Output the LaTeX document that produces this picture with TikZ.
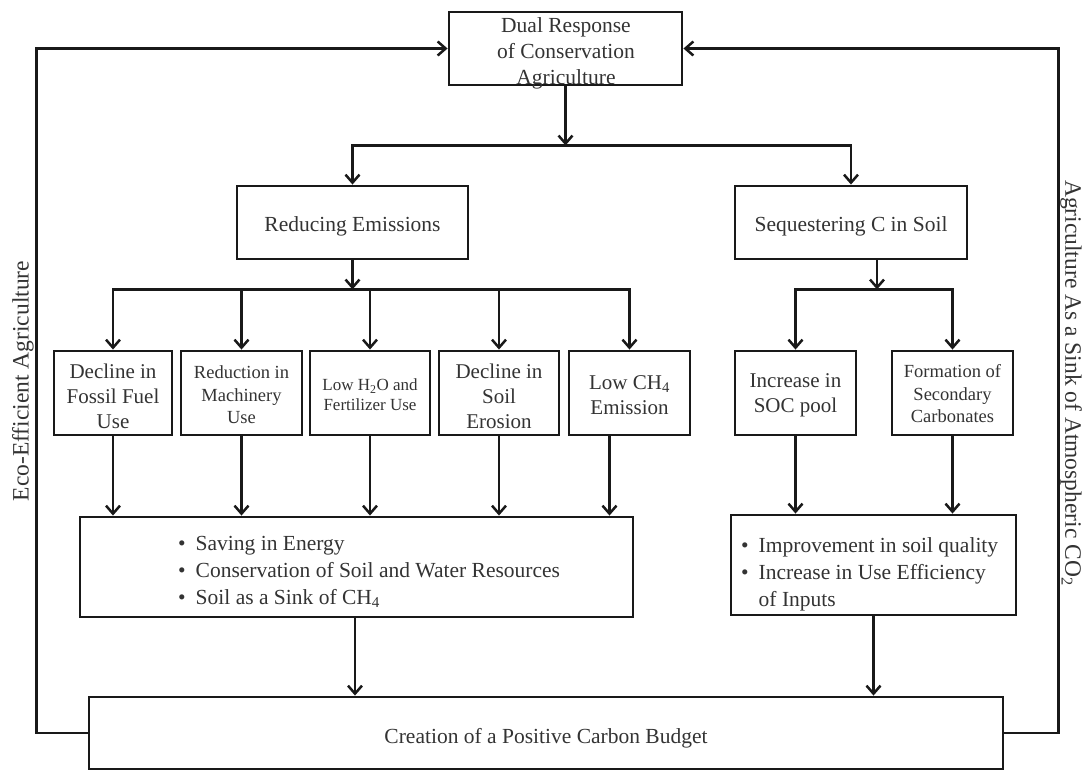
\documentclass[tikz,border=0pt]{standalone}
\usepackage{fontspec}
\setmainfont{Liberation Serif}
\usetikzlibrary{arrows.meta,calc}
\begin{document}
\begin{tikzpicture}[x=1pt,y=-1pt,
  box/.style={draw=black!90,line width=2.9pt,inner sep=0pt},
  txt/.style={text=black!80,align=center,inner sep=0pt,font=\fontsize{21.5}{26}\selectfont},
  big/.style={text=black!80,align=center,inner sep=0pt,font=\fontsize{21}{25}\selectfont},
  mid/.style={text=black!80,align=center,inner sep=0pt,font=\fontsize{18.5}{22.5}\selectfont},
  sml/.style={text=black!80,align=center,inner sep=0pt,font=\fontsize{17}{20}\selectfont},
  bul/.style={text=black!80,inner sep=0pt,anchor=west,font=\fontsize{21.5}{27}\selectfont},
  side/.style={text=black!80,inner sep=0pt,font=\fontsize{23.5}{28}\selectfont},
  sbox/.style={box,minimum width=120pt,minimum height=84pt},
  conn/.style={draw=black!90,line width=2.5pt},
  arr/.style={conn,-{Straight Barb[length=8pt,width=14pt]}},
]
\useasboundingbox (0,0) rectangle (1089,772);

% top
\node[box,minimum width=233pt,minimum height=73pt] (top) at (565.5,48.5) {};
\node[txt] (topT) at (566,53.5) {Dual Response\\of Conservation\\Agriculture};

% second level
\node[box,minimum width=231pt,minimum height=73pt] (red) at (352.5,222.5) {};
\node[txt,yshift=-4pt] (redT) at (red) {Reducing Emissions};
\node[box,minimum width=232pt,minimum height=73pt] (seq) at (851,222.5) {};
\node[txt,yshift=-4pt] (seqT) at (seq) {Sequestering C in Soil};

% small boxes
\node[sbox,minimum width=118pt] (b1) at (113,393) {};
\node[big,yshift=-3pt] (b1T) at (b1) {Decline in\\Fossil Fuel\\Use};
\node[sbox,minimum width=121pt] (b2) at (241.5,393) {};
\node[mid,yshift=-2pt] (b2T) at (b2) {Reduction in\\Machinery\\Use};
\node[sbox] (b3) at (370,393) {};
\node[sml,yshift=-2pt] (b3T) at (b3) {Low H\textsubscript{2}O and\\Fertilizer Use};
\node[sbox] (b4) at (499,393) {};
\node[big,yshift=-3pt] (b4T) at (b4) {Decline in\\Soil\\Erosion};
\node[sbox,minimum width=121pt] (b5) at (629.5,393) {};
\node[big,yshift=-2pt] (b5T) at (b5) {Low CH\textsubscript{4}\\Emission};
\node[sbox,minimum width=121pt] (soc) at (795.5,393) {};
\node[big,yshift=-2pt] (socT) at (soc) {Increase in\\SOC pool};
\node[sbox,minimum width=121pt] (form) at (952.5,393) {};
\node[mid,yshift=-1pt] (formT) at (form) {Formation of\\Secondary\\Carbonates};

% result boxes
\node[box,minimum width=553pt,minimum height=100pt] (lbox) at (356.5,567) {};
\node[bul] (ltxt) at (178,572) {\begin{tabular}{@{}l@{\hspace{10pt}}l@{}}
\textbullet & Saving in Energy\\
\textbullet & Conservation of Soil and Water Resources\\
\textbullet & Soil as a Sink of CH\textsubscript{4}
\end{tabular}};
\node[box,minimum width=285pt,minimum height=100pt] (rbox) at (873.5,565) {};
\node[bul] (rtxt) at (741,574) {\begin{tabular}{@{}l@{\hspace{10pt}}l@{}}
\textbullet & Improvement in soil quality\\
\textbullet & Increase in Use Efficiency\\
 & of Inputs
\end{tabular}};

% bottom
\node[box,minimum width=914pt,minimum height=72pt] (bot) at (546,733) {};
\node[txt,yshift=-5pt] (botT) at (bot) {Creation of a Positive Carbon Budget};

% side labels
\node[side,rotate=90] (eco) at (23,381) {Eco-Efficient Agriculture};
\node[side,rotate=-90,anchor=west] (sink) at (1071,180) {Agriculture As a Sink of Atmospheric CO\textsubscript{2}};

% connectors
\draw[arr] (bot.west) -- ++(-51,0) |- (top.west);
\draw[arr] (bot.east) -- ++(54,0) |- (top.east);

\draw[arr] (top.south) -- ++(0,59) coordinate (j1);
\draw[arr] (j1) -| (red.north);
\draw[arr] (j1) -| (seq.north);

\draw[arr] (red.south) -- ++(0,29) coordinate (j2);
\foreach \b in {b1,b2,b3,b4,b5} \draw[arr] (j2) -| (\b.north);

\draw[arr] ([xshift=26pt]seq.south) -- ++(0,29) coordinate (j3);
\draw[arr] (j3) -| (soc.north);
\draw[arr] (j3) -| (form.north);

\foreach \b in {b1,b2,b3,b4} \draw[arr] (\b.south) -- (\b.south |- lbox.north);
\draw[arr] ([xshift=-20pt]b5.south) -- ([xshift=-20pt]b5.south |- lbox.north);
\draw[arr] (soc.south) -- (soc.south |- rbox.north);
\draw[arr] (form.south) -- (form.south |- rbox.north);

\draw[arr] ([xshift=-1.5pt]lbox.south) -- ([xshift=-1.5pt]lbox.south |- bot.north);
\draw[arr] (rbox.south) -- (rbox.south |- bot.north);
\end{tikzpicture}
\end{document}
